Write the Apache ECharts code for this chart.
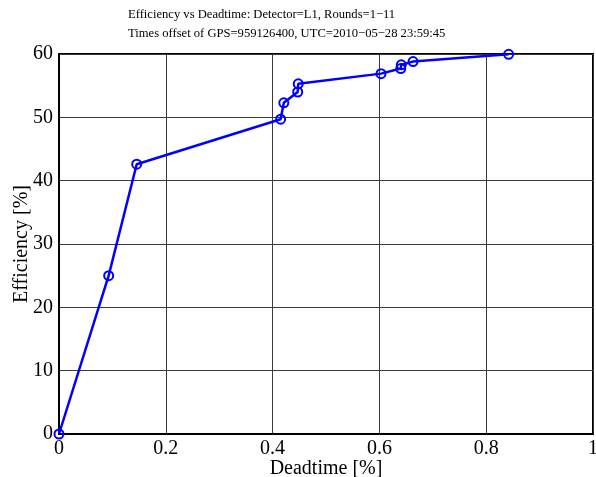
<!DOCTYPE html>
<html>
<head>
<meta charset="utf-8">
<script src="https://cdn.jsdelivr.net/npm/echarts@6/dist/echarts.min.js"></script>
<style>
  html, body { margin: 0; padding: 0; background: #fff; }
  #chart { width: 596px; height: 477px; }
</style>
</head>
<body>
<div id="chart"></div>
<script>
// Deadtime [%] against efficiency [%], one point per threshold
const deadtime = [0, 0.093, 0.1455, 0.415, 0.421, 0.447, 0.448, 0.603, 0.640, 0.641, 0.663, 0.842];
const efficiency = [0, 25.0, 42.6, 49.7, 52.3, 54.0, 55.3, 56.9, 57.7, 58.3, 58.8, 59.95];
const titleLines = [
  'Efficiency vs Deadtime: Detector=L1, Rounds=1\u221211',
  'Times offset of GPS=959126400, UTC=2010\u221205\u221228 23:59:45'
];
const xLabel = 'Deadtime [%]';
const yLabel = 'Efficiency [%]';

const serif = '"Liberation Serif", "DejaVu Serif", serif';
const points = deadtime.map((d, i) => [d, efficiency[i]]);

const chart = echarts.init(document.getElementById('chart'), null, { renderer: 'canvas' });
chart.setOption({
  animation: false,
  backgroundColor: '#fff',
  title: titleLines.map((t, i) => ({
    text: t,
    left: 128,
    top: 8.5 + i * 18.5,
    padding: 0,
    textStyle: { fontFamily: serif, fontSize: 12.6, fontWeight: 'normal', color: '#000' }
  })),
  grid: {
    left: 59, top: 54, right: 3, bottom: 43,
    outerBoundsMode: 'none',
    containLabel: false,
    show: true, borderColor: '#000', borderWidth: 2, backgroundColor: 'transparent'
  },
  xAxis: {
    type: 'value', min: 0, max: 1, interval: 0.2,
    name: xLabel, nameLocation: 'middle', nameGap: 25, nameMoveOverlap: false,
    nameTextStyle: { fontFamily: serif, fontSize: 20, color: '#000' },
    axisLine: { show: true, lineStyle: { color: '#000', width: 2 } },
    axisTick: { show: false },
    axisLabel: { fontFamily: serif, fontSize: 20, color: '#000', margin: 5 },
    splitLine: { show: true, lineStyle: { color: '#3a3a3a', width: 1 } }
  },
  yAxis: {
    type: 'value', min: 0, max: 60, interval: 10,
    name: yLabel, nameLocation: 'middle', nameGap: 27, nameMoveOverlap: false,
    nameTextStyle: { fontFamily: serif, fontSize: 20, color: '#000' },
    axisLine: { show: true, lineStyle: { color: '#000', width: 2 } },
    axisTick: { show: false },
    axisLabel: { fontFamily: serif, fontSize: 20, color: '#000', margin: 6 },
    splitLine: { show: true, lineStyle: { color: '#3a3a3a', width: 1 } }
  },
  series: [{
    type: 'line',
    data: points,
    lineStyle: { color: '#0000ff', width: 2.5 },
    symbol: 'circle', symbolSize: 9,
    itemStyle: { color: 'rgba(0,0,0,0)', borderColor: '#0000ff', borderWidth: 2 },
    showSymbol: true,
    clip: false
  }]
});
</script>
</body>
</html>
